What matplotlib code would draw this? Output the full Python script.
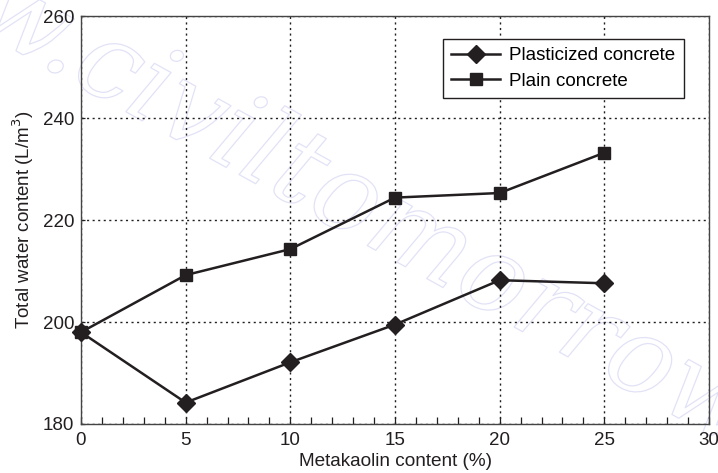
import matplotlib
matplotlib.use("Agg")
import matplotlib.pyplot as plt
import matplotlib.patheffects as pe
from matplotlib.ticker import MultipleLocator

plt.rcParams['font.family'] = ['Liberation Sans', 'DejaVu Sans']

# data
metakaolin = [0, 5, 10, 15, 20, 25]
plasticized = [198.0, 184.2, 192.1, 199.5, 208.2, 207.6]
plain = [198.0, 209.2, 214.3, 224.4, 225.3, 233.2]

ink = '#231f20'

fig = plt.figure(figsize=(7.18, 4.73), dpi=100)
ax = fig.add_axes([0.1128, 0.1036, 0.8747, 0.8624])

# faint outlined watermark, drawn behind everything else
ax.text(0.55, 0.52, 'www.civiltomorrow.com', fontsize=78, family='DejaVu Serif',
        style='italic', color=(1, 1, 1, 0), rotation=-29, ha='center', va='center',
        rotation_mode='anchor', transform=fig.transFigure, clip_on=False, zorder=0.1,
        path_effects=[pe.Stroke(linewidth=0.9, foreground='#e2e2f7'), pe.Normal()])

ax.plot(metakaolin, plasticized, color=ink, lw=1.8, marker='D', ms=9,
        label='Plasticized concrete', clip_on=False, zorder=5)
ax.plot(metakaolin, plain, color=ink, lw=1.8, marker='s', ms=9,
        label='Plain concrete', clip_on=False, zorder=5)

ax.set_xlim(0, 30)
ax.set_ylim(180, 260)
ax.xaxis.set_major_locator(MultipleLocator(5))
ax.xaxis.set_minor_locator(MultipleLocator(1))
ax.yaxis.set_major_locator(MultipleLocator(20))
ax.tick_params(which='both', direction='in', length=5, width=0.9, colors=ink,
               labelsize=13.5, pad=6)
ax.tick_params(axis='y', which='both', length=3, pad=5)

ax.grid(True, which='major', linestyle=(0, (1.5, 2.5)), color=ink, lw=1.0)
for s in ax.spines.values():
    s.set_color('#444444')
    s.set_linewidth(1.0)

ax.set_xlabel('Metakaolin content (%)', fontsize=13.7, color=ink, labelpad=3)
ax.set_ylabel('Total water content (L/m$^3$)', fontsize=13.5, color=ink, labelpad=5)

leg = ax.legend(loc='upper right', bbox_to_anchor=(0.960, 0.944), borderaxespad=0,
                fontsize=13.5, frameon=True, fancybox=False, edgecolor=ink,
                framealpha=1, handlelength=2.6, borderpad=0.45, labelspacing=0.45,
                handletextpad=0.5)
leg.get_frame().set_linewidth(1.0)
leg.set_zorder(10)

fig.savefig('out.png', dpi=100)
